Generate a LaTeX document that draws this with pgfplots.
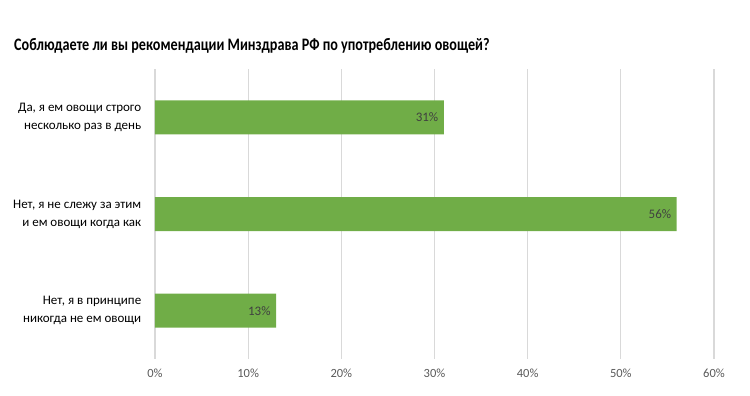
\documentclass[border=0pt]{standalone}
\usepackage{fontspec}
\setmainfont{Carlito}
\usepackage{pgfplots}
\pgfplotsset{compat=1.18}
\definecolor{bargreen}{HTML}{70AD47}
\definecolor{gridgray}{HTML}{D9D9D9}
\definecolor{ticktext}{HTML}{595959}
\definecolor{labeltext}{HTML}{404040}
\begin{document}
\begin{tikzpicture}[x=1pt,y=1pt]
\path (0,0) rectangle (750,396);
\node[anchor=base west,inner sep=0pt,font=\bfseries\fontsize{17.5}{20}\selectfont] at (14,345) {\scalebox{0.81}[1]{Соблюдаете ли вы рекомендации Минздрава РФ по употреблению овощей?}};
\begin{axis}[
  at={(155pt,37pt)}, anchor=south west,
  scale only axis, width=559pt, height=290pt,
  xbar, bar width=34pt,
  xmin=0, xmax=60, ymin=0.5, ymax=3.5, y dir=reverse,
  xtick={0,10,20,30,40,50,60},
  xticklabel={\pgfmathprintnumber{\tick}\%},
  /pgf/number format/assume math mode=true,
  ytick={1,2,3},
  yticklabels={{Да, я ем овощи строго\\несколько раз в день},{Нет, я не слежу за этим\\и ем овощи когда как},{Нет, я в принципе\\никогда не ем овощи}},
  yticklabel style={align=right, font=\fontsize{13}{18}\selectfont, text=black, xshift=-6pt},
  xticklabel style={font=\fontsize{12.5}{15}\selectfont, text=ticktext, yshift=-6pt},
  xmajorgrids, grid style={gridgray, line width=1.2pt},
  axis line style={draw=none}, major tick style={draw=none},
  nodes near coords={\pgfmathprintnumber{\pgfplotspointmeta}\%},
  every node near coord/.append style={anchor=east, xshift=-2pt, text=labeltext, font=\fontsize{13}{15}\selectfont},
  point meta=x,
]
\addplot[fill=bargreen, draw=none] coordinates {(31,1) (56,2) (13,3)};
\end{axis}
\end{tikzpicture}
\end{document}
